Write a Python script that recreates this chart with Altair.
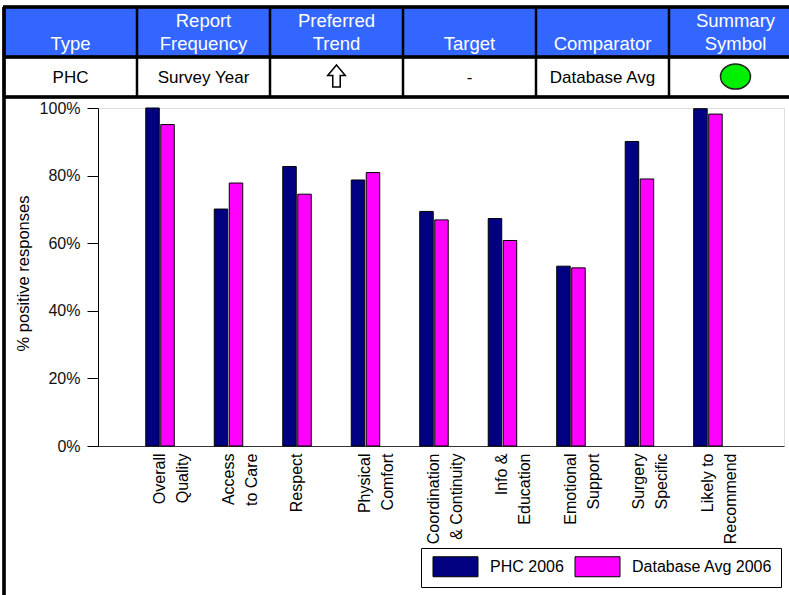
import altair as alt
import pandas as pd

# ---------------- data ----------------
categories = ["Overall\nQuality", "Access\nto Care", "Respect", "Physical\nComfort",
              "Coordination\n& Continuity", "Info &\nEducation", "Emotional\nSupport",
              "Surgery\nSpecific", "Likely to\nRecommend"]
phc_2006 = [1.000, 0.701, 0.827, 0.787, 0.694, 0.673, 0.532, 0.901, 0.998]
db_avg_2006 = [0.951, 0.778, 0.745, 0.809, 0.669, 0.608, 0.527, 0.790, 0.982]
series = ["PHC 2006", "Database Avg 2006"]
series_colors = ["#000080", "#FF00FF"]
y_ticks = [0, 0.2, 0.4, 0.6, 0.8, 1.0]

header_cols = ["Type", "Report\nFrequency", "Preferred\nTrend", "Target", "Comparator", "Summary\nSymbol"]
header_vals = ["PHC", "Survey Year", "", "-", "Database Avg", ""]
trend_col = ["Preferred\nTrend"]
status_col = ["Summary\nSymbol"]

# ---------------- styles ----------------
FONT = "Liberation Sans, Arial, Helvetica, sans-serif"
W, H = 686, 338
PAD = {"left": 98, "top": 108, "right": 5, "bottom": 149}

bar_df = pd.DataFrame({
    "category": categories * 2,
    "series": [series[0]] * len(categories) + [series[1]] * len(categories),
    "value": phc_2006 + db_avg_2006,
})
header_df = pd.DataFrame({"col": header_cols, "value": header_vals})
trend_df = pd.DataFrame({"col": trend_col})
status_df = pd.DataFrame({"col": status_col})

hscale = alt.Scale(domain=header_cols, range=[-94, 704], paddingInner=0, paddingOuter=0)
hx = alt.X("col:N", sort=header_cols, scale=hscale, axis=None)
hx_edge = alt.X("col:N", sort=header_cols, scale=hscale, axis=None, bandPosition=0)

base_h = alt.Chart(header_df).transform_calculate(
    lines="split(datum.col, '\\n')"
).transform_calculate(
    first="length(datum.lines) > 1 ? datum.lines[0] : ''",
    last="datum.lines[length(datum.lines) - 1]",
)

blue = alt.Chart(header_df).mark_rect(fill="#3366FF").encode(
    x=hx, y=alt.value(-101), y2=alt.value(-51))
head_l1 = base_h.mark_text(color="white", font=FONT, fontSize=18.5, baseline="alphabetic").encode(
    x=hx, y=alt.value(27 - 108), text="first:N")
head_l2 = base_h.mark_text(color="white", font=FONT, fontSize=18.5, baseline="alphabetic").encode(
    x=hx, y=alt.value(50 - 108), text="last:N")
val_text = alt.Chart(header_df).mark_text(
    color="black", font=FONT, fontSize=17, baseline="alphabetic"
).encode(x=hx, y=alt.value(83 - 108), text="value:N")
arrow = alt.Chart(trend_df).mark_point(
    shape="M0,-1L0.8,-0.05L0.34,-0.05L0.34,1L-0.34,1L-0.34,-0.05L-0.8,-0.05Z",
    size=484, filled=True, fill="white", stroke="black", strokeWidth=1.5, opacity=1
).encode(x=hx, y=alt.value(-32))
status = alt.Chart(status_df).mark_point(
    shape="M-1,0A1,0.84,0,1,0,1,0A1,0.84,0,1,0,-1,0Z",
    size=900, filled=True, fill="#00EE00", stroke="#222222", strokeWidth=1.5, opacity=1
).encode(x=hx, y=alt.value(-31.5))
vlines = alt.Chart(header_df).mark_rule(color="black", strokeWidth=2.5).encode(
    x=hx_edge, y=alt.value(-101), y2=alt.value(-11))
hline_top = alt.Chart(header_df).mark_rule(color="black", strokeWidth=2.5).encode(
    x=alt.value(-95), x2=alt.value(704), y=alt.value(-101))
hline_mid = alt.Chart(header_df).mark_rule(color="black", strokeWidth=2.5).encode(
    x=alt.value(-95), x2=alt.value(704), y=alt.value(-51))
hline_bot = alt.Chart(header_df).mark_rule(color="black", strokeWidth=2.5).encode(
    x=alt.value(-95), x2=alt.value(704), y=alt.value(-11))
left_frame = alt.Chart(header_df).mark_rule(color="black", strokeWidth=2.5).encode(
    x=alt.value(-94), y=alt.value(-101), y2=alt.value(H + 160))

header = alt.layer(blue, head_l1, head_l2, val_text, arrow, status, vlines,
                   hline_top, hline_mid, hline_bot, left_frame)

bars = alt.Chart(bar_df).mark_bar(stroke="black", strokeWidth=1).encode(
    x=alt.X("category:N", sort=categories,
            scale=alt.Scale(paddingInner=0.584, paddingOuter=0.8, align=0.436),
            axis=alt.Axis(title=None, labelAngle=270, labelAlign="right", labelBaseline="middle",
                          labelExpr="split(datum.label, '\\n')", labelFont=FONT, labelFontSize=16,
                          labelLineHeight=23, labelColor="black", labelPadding=7, ticks=False,
                          tickSize=0, domainColor="#333333", labelLimit=300)),
    xOffset=alt.XOffset("series:N", sort=series, scale=alt.Scale(paddingInner=0.1)),
    y=alt.Y("value:Q", scale=alt.Scale(domain=[0, 1]),
            axis=alt.Axis(values=y_ticks, format=".0%", title="% positive responses", grid=False,
                          domainColor="black", tickColor="black", tickSize=11, labelPadding=7,
                          labelFont=FONT, labelFontSize=16, labelColor="#111111",
                          titleFont=FONT, titleFontSize=16.5, titleFontWeight="normal",
                          titleColor="black", titleAngle=270, titleX=-70, titleY=165,
                          titleAlign="center", titleBaseline="alphabetic")),
    fill=alt.Fill("series:N", sort=series, scale=alt.Scale(domain=series, range=series_colors),
                  legend=alt.Legend(title=None, orient="none", legendX=323, legendY=440,
                                    direction="horizontal", strokeColor="black", padding=8,
                                    symbolType="M-2.25,-1H2.25V1H-2.25Z", symbolSize=400,
                                    symbolStrokeColor="black", symbolStrokeWidth=1,
                                    symbolOffset=16, labelOffset=24, columnPadding=7,
                                    labelFont=FONT, labelFontSize=16, labelColor="black")),
)

chart = alt.layer(header, bars).resolve_scale(x="independent").properties(
    width=W, height=H, autosize=alt.AutoSizeParams(type="none"), padding=PAD
).configure_view(stroke="#333333", strokeWidth=1.5).configure(background="white")

chart.save("out.html", embed_options={"renderer": "svg", "actions": False})
